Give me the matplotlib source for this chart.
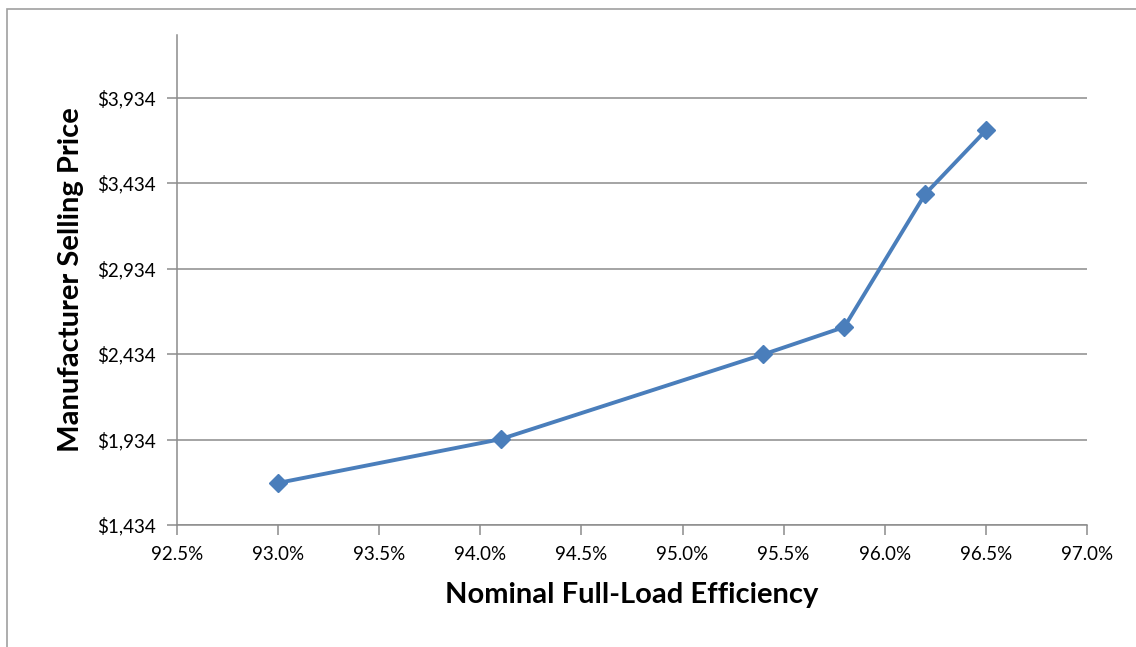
import matplotlib.pyplot as plt
from matplotlib.patches import Rectangle
from matplotlib.ticker import FuncFormatter

# efficiency (%) vs manufacturer selling price ($)
efficiency = [93.0, 94.1, 95.4, 95.8, 96.2, 96.5]
price = [1680, 1936, 2432, 2592, 3370, 3742]
y_ticks = [1434, 1934, 2434, 2934, 3434, 3934]
x_ticks = [92.5, 93.0, 93.5, 94.0, 94.5, 95.0, 95.5, 96.0, 96.5, 97.0]

plt.rcParams['font.family'] = ['Lato', 'DejaVu Sans']

fig = plt.figure(figsize=(11.36, 6.47), dpi=100)
ax = fig.add_axes([177/1136, 1-525/647, 910/1136, 490/647])

# grey frame around the chart
fig.patches.append(Rectangle((7/1136, -0.1), 1.2, 1.1-9/647, transform=fig.transFigure,
                             fill=False, edgecolor='#a0a0a0', linewidth=1.2))

ax.plot(efficiency, price, color='#4a7ebb', linewidth=2.8, marker='D',
        markersize=9, zorder=3)

ax.set_xlim(92.5, 97.0)
ax.set_ylim(1434, 4300)
ax.set_xticks(x_ticks)
ax.set_yticks(y_ticks)
ax.xaxis.set_major_formatter(FuncFormatter(lambda v, p: f'{v:.1f}%'))
ax.yaxis.set_major_formatter(FuncFormatter(lambda v, p: f'${v:,.0f}'))

ax.grid(axis='y', color='#8c8c8c', linewidth=1.1)
ax.set_axisbelow(True)
for s in ['top', 'right']:
    ax.spines[s].set_visible(False)
for s in ['left', 'bottom']:
    ax.spines[s].set_color('#8c8c8c')
    ax.spines[s].set_linewidth(1.1)
ax.tick_params(colors='#8c8c8c', length=7, width=1.1, labelcolor='black',
               labelsize=13.5)
ax.tick_params(axis='y', pad=8)
ax.tick_params(axis='x', pad=8)

ax.set_xlabel('Nominal Full-Load Efficiency', fontsize=21, fontweight='bold', labelpad=14)
ax.set_ylabel('Manufacturer Selling Price', fontsize=21, fontweight='bold', labelpad=10)

fig.savefig('out.png', dpi=100)
